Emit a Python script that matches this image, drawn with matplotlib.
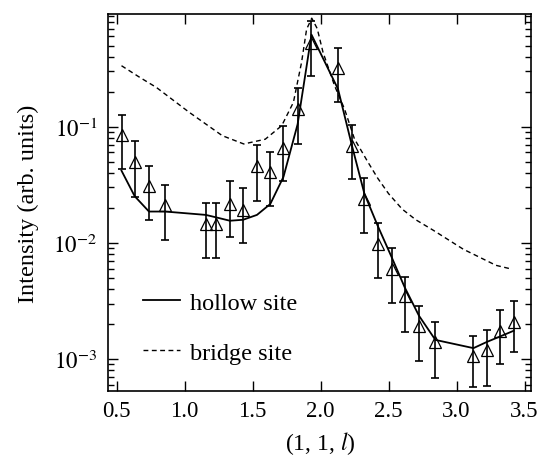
import matplotlib
matplotlib.use("Agg")
import matplotlib.pyplot as plt
from matplotlib.ticker import LogLocator, FixedLocator, NullFormatter

# ---- data ----
l_data = [0.536, 0.633, 0.738, 0.857, 1.156, 1.229, 1.333, 1.430, 1.532, 1.630,
          1.727, 1.831, 1.933, 2.128, 2.230, 2.322, 2.419, 2.523, 2.618, 2.723,
          2.844, 3.124, 3.221, 3.318, 3.420]
I_data = [0.084, 0.050, 0.031, 0.021, 0.0146, 0.0146, 0.0217, 0.019, 0.046, 0.0407,
          0.066, 0.142, 0.53, 0.32, 0.0686, 0.0239, 0.0098, 0.0060, 0.00351, 0.00194,
          0.0014, 0.00107, 0.0012, 0.00175, 0.0021]
err_hi = [0.125, 0.075, 0.046, 0.0316, 0.022, 0.022, 0.034, 0.0295, 0.069, 0.061,
          0.1007, 0.216, 0.82, 0.48, 0.104, 0.036, 0.0148, 0.0090, 0.00512, 0.00288,
          0.00207, 0.00159, 0.00179, 0.00266, 0.00318]
err_lo = [0.043, 0.025, 0.0156, 0.0106, 0.0074, 0.0074, 0.0112, 0.0099, 0.023, 0.0206,
          0.034, 0.071, 0.275, 0.164, 0.0355, 0.0122, 0.00495, 0.00304, 0.0017, 0.00096,
          0.00069, 0.00057, 0.00059, 0.0009, 0.00114]

l_hollow = [0.536, 0.633, 0.738, 0.857, 1.156, 1.229, 1.333, 1.430, 1.532, 1.630,
            1.727, 1.831, 1.933, 2.128, 2.230, 2.322, 2.419, 2.523, 2.618, 2.723,
            2.844, 3.124, 3.221, 3.318, 3.420]
I_hollow = [0.0418, 0.0252, 0.0186, 0.0186, 0.0174, 0.0166, 0.0155, 0.0158, 0.0174, 0.0216,
            0.037, 0.105, 0.62, 0.211, 0.069, 0.0265, 0.0141, 0.0075, 0.00415, 0.00236,
            0.00146, 0.00124, 0.0014, 0.00156, 0.00175]

l_bridge = [0.536, 0.670, 0.792, 1.034, 1.277, 1.435, 1.593, 1.714, 1.800, 1.860,
            1.897, 1.935, 1.975, 2.018, 2.103, 2.176, 2.249, 2.346, 2.420, 2.500,
            2.600, 2.700, 2.830, 3.050, 3.290, 3.390]
I_bridge = [0.335, 0.266, 0.218, 0.133, 0.0837, 0.071, 0.078, 0.102, 0.162, 0.358,
            0.69, 0.86, 0.70, 0.436, 0.225, 0.142, 0.0784, 0.050, 0.036, 0.0265,
            0.0195, 0.0158, 0.0128, 0.0088, 0.0064, 0.0060]

x_ticks = [0.5, 1.0, 1.5, 2.0, 2.5, 3.0, 3.5]
x_ticklabels = ["0.5", "1.0", "1.5", "2.0", "2.5", "3.0", "3.5"]
y_ticks = [1e-3, 1e-2, 1e-1]
y_ticklabels = [r"$10^{-3}$", r"$10^{-2}$", r"$10^{-1}$"]

plt.rcParams['font.family'] = ['Liberation Serif', 'DejaVu Serif']
plt.rcParams['mathtext.fontset'] = 'stix'

fig = plt.figure(figsize=(5.41, 4.56), dpi=100)
ax = fig.add_axes([0.2002, 0.1397, 0.982 - 0.2002, 0.967 - 0.1397])

ax.plot(l_hollow, I_hollow, color='black', lw=1.3, label='hollow site')
ax.plot(l_bridge, I_bridge, color='black', lw=1.0, dashes=(3.5, 2.5), label='bridge site')

yerr = [[v - lo for v, lo in zip(I_data, err_lo)], [hi - v for v, hi in zip(I_data, err_hi)]]
ax.errorbar(l_data, I_data, yerr=yerr, fmt='none', ecolor='black', elinewidth=1.2,
            capsize=3.0, capthick=1.2)
ax.plot(l_data, I_data, linestyle='none', marker='^', markersize=8.5,
        markerfacecolor='none', markeredgecolor='black', markeredgewidth=0.9)

ax.set_yscale('log')
ax.set_xlim(0.439, 3.549)
ax.set_ylim(5.27e-4, 0.933)

ax.xaxis.set_major_locator(FixedLocator(x_ticks))
ax.set_xticklabels(x_ticklabels)
ax.yaxis.set_major_locator(FixedLocator(y_ticks))
ax.set_yticklabels(y_ticklabels)
ax.yaxis.set_minor_locator(LogLocator(base=10, subs=range(2, 10), numticks=20))
ax.yaxis.set_minor_formatter(NullFormatter())

ax.tick_params(which='both', direction='in', top=True, right=True, width=1.0)
ax.tick_params(which='major', length=7, labelsize=16.5)
ax.tick_params(which='minor', length=4)
ax.tick_params(axis='x', pad=6)
ax.tick_params(axis='y', pad=8)
for s in ax.spines.values():
    s.set_linewidth(1.2)

ax.set_xlabel(r"(1, 1, $\mathit{l}$)", fontsize=17, labelpad=6)
ax.set_ylabel("Intensity (arb. units)", fontsize=17.5, labelpad=10)

leg = ax.legend(loc='center left', bbox_to_anchor=(0.081, 0.168), frameon=False,
                fontsize=17.5, handlelength=1.55, handletextpad=0.42, labelspacing=1.15,
                borderpad=0, borderaxespad=0)

fig.savefig("out.png", dpi=100)
